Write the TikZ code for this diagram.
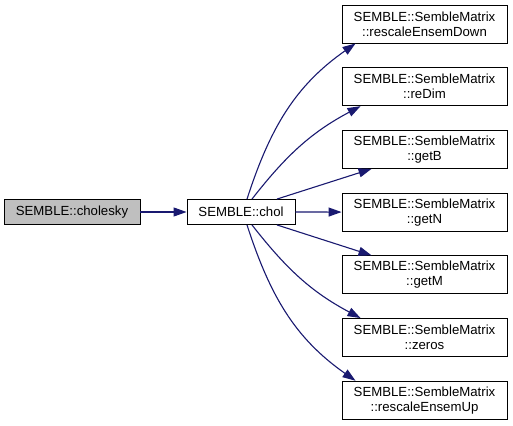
\documentclass[tikz,border=0pt]{standalone}
\usepackage{fontspec}
\setmainfont{Liberation Sans}
\usetikzlibrary{arrows.meta,positioning,calc}
\definecolor{edgeblue}{HTML}{191970}
\definecolor{nodegray}{HTML}{BFBFBF}
\tikzset{
  fn/.style={draw=black, line width=0.9pt, fill=white, inner sep=0pt, align=center,
    font=\fontsize{13.2}{15}\selectfont},
  callee/.style={fn, minimum width=165pt, minimum height=38pt},
  call/.style={-{Triangle[length=13pt,width=9pt]}, edgeblue, line width=1.1pt},
}

\begin{document}
\begin{tikzpicture}[x=1pt,y=-1pt]
\useasboundingbox (0,0) rectangle (513,425);
\node[fn, fill=nodegray, minimum width=136pt, minimum height=25pt] (cholesky) at (72,212) {SEMBLE::cholesky};
\node[fn, minimum width=108pt, minimum height=25pt] (chol) at (241,212) {SEMBLE::chol};
\foreach \lbl [count=\i] in {rescaleEnsemDown,reDim,getB,getN,getM,zeros,rescaleEnsemUp} {
  \node[callee] (m\i) at (424.5,{24+62.7*(\i-1)}) {SEMBLE::SembleMatrix\\::\lbl};
}
\draw[call] (cholesky) -- (chol);
% calls from chol, top to bottom
\draw[call] ([xshift=6pt]chol.north) to[out=72,in=215] ([xshift=14pt]m1.south west);
\draw[call] ([xshift=11pt]chol.north) to[out=52,in=208] ([xshift=19pt]m2.south west);
\draw[call] ([xshift=36pt]chol.north) -- ([xshift=30pt]m3.south west);
\draw[call] (chol) -- (m4);
\draw[call] ([xshift=36pt]chol.south) -- ([xshift=30pt]m5.north west);
\draw[call] ([xshift=11pt]chol.south) to[out=-52,in=152] ([xshift=19pt]m6.north west);
\draw[call] ([xshift=6pt]chol.south) to[out=-72,in=145] ([xshift=14pt]m7.north west);
\end{tikzpicture}
\end{document}
